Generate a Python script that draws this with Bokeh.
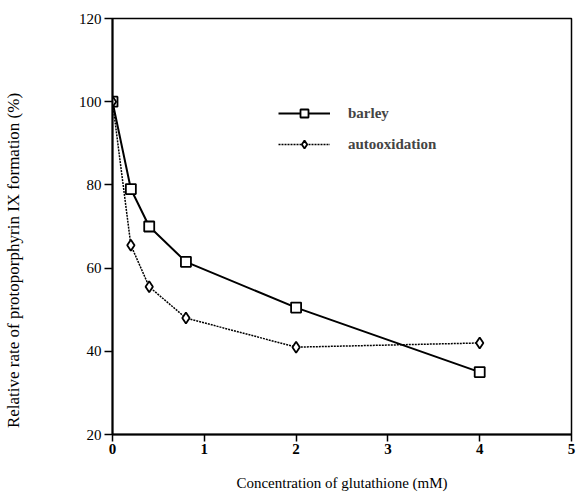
from bokeh.plotting import figure
from bokeh.models import Range1d, Legend, LegendItem, FixedTicker
from bokeh.embed import file_html
from bokeh.resources import INLINE

# data
glutathione_mM = [0, 0.2, 0.4, 0.8, 2, 4]
barley = [100, 79, 70, 61.5, 50.5, 35]
autooxidation = [100, 65.5, 55.5, 48, 41, 42]
x_ticks = [0, 1, 2, 3, 4, 5]
y_ticks = [20, 40, 60, 80, 100, 120]
x_title = "Concentration of glutathione (mM)"
y_title = "Relative rate of protoporphyrin IX formation (%)"

FONT = "Liberation Serif"

p = figure(width=576, height=494, output_backend="svg", toolbar_location=None,
           x_range=Range1d(0, 5), y_range=Range1d(20, 120),
           min_border_left=112, min_border_right=5, min_border_top=18, min_border_bottom=60)
p.grid.visible = False
p.outline_line_color = "black"
p.outline_line_width = 1.5
p.background_fill_color = "white"
p.border_fill_color = "white"

for ax in (p.xaxis[0], p.yaxis[0]):
    ax.axis_line_width = 2
    ax.axis_line_color = "black"
    ax.major_tick_line_width = 1.5
    ax.major_tick_line_color = "black"
    ax.major_tick_in = 0
    ax.minor_tick_line_color = None
    ax.major_label_text_font = FONT
    ax.major_label_text_color = "black"
    ax.axis_label_text_font = FONT
    ax.axis_label_text_font_style = "normal"
    ax.axis_label_text_color = "black"

p.xaxis[0].major_tick_out = 7
p.yaxis[0].major_tick_out = 8
p.xaxis[0].major_label_standoff = 2
p.yaxis[0].major_label_standoff = 3
p.xaxis[0].major_label_text_font_style = "bold"
p.xaxis[0].major_label_text_font_size = "15px"
p.yaxis[0].major_label_text_font_style = "normal"
p.yaxis[0].major_label_text_font_size = "15px"
p.xaxis[0].ticker = FixedTicker(ticks=x_ticks)
p.yaxis[0].ticker = FixedTicker(ticks=y_ticks)

p.xaxis[0].axis_label = x_title
p.xaxis[0].axis_label_text_font_size = "15px"
p.xaxis[0].axis_label_standoff = 18
# the original title sits below the middle of the axis: pad its top end
p.yaxis[0].axis_label = y_title + "\u00a0" * 16
p.yaxis[0].axis_label_text_font_size = "17px"
p.yaxis[0].axis_label_standoff = 53

l1 = p.line(glutathione_mM, barley, line_color="black", line_width=2)
m1 = p.scatter(glutathione_mM, barley, marker="square", size=10, fill_color="white",
               line_color="black", line_width=1.8)
l2 = p.line(glutathione_mM, autooxidation, line_color="black", line_width=1.5, line_dash="2 1")
m2 = p.scatter(glutathione_mM, autooxidation, marker="diamond", size=11, fill_color="white",
               line_color="black", line_width=1.8)

legend = Legend(items=[LegendItem(label="barley", renderers=[l1, m1]),
                       LegendItem(label="autooxidation", renderers=[l2, m2])],
                location=(166, 280))
legend.border_line_alpha = 0
legend.background_fill_alpha = 0
legend.padding = 0
legend.margin = 0
legend.glyph_width = 52
legend.glyph_height = 20
legend.label_height = 20
legend.spacing = 11
legend.label_standoff = 18
legend.label_text_font = FONT
legend.label_text_font_style = "bold"
legend.label_text_font_size = "15px"
p.add_layout(legend, "center")

open("out.html", "w").write(file_html(p, INLINE))
